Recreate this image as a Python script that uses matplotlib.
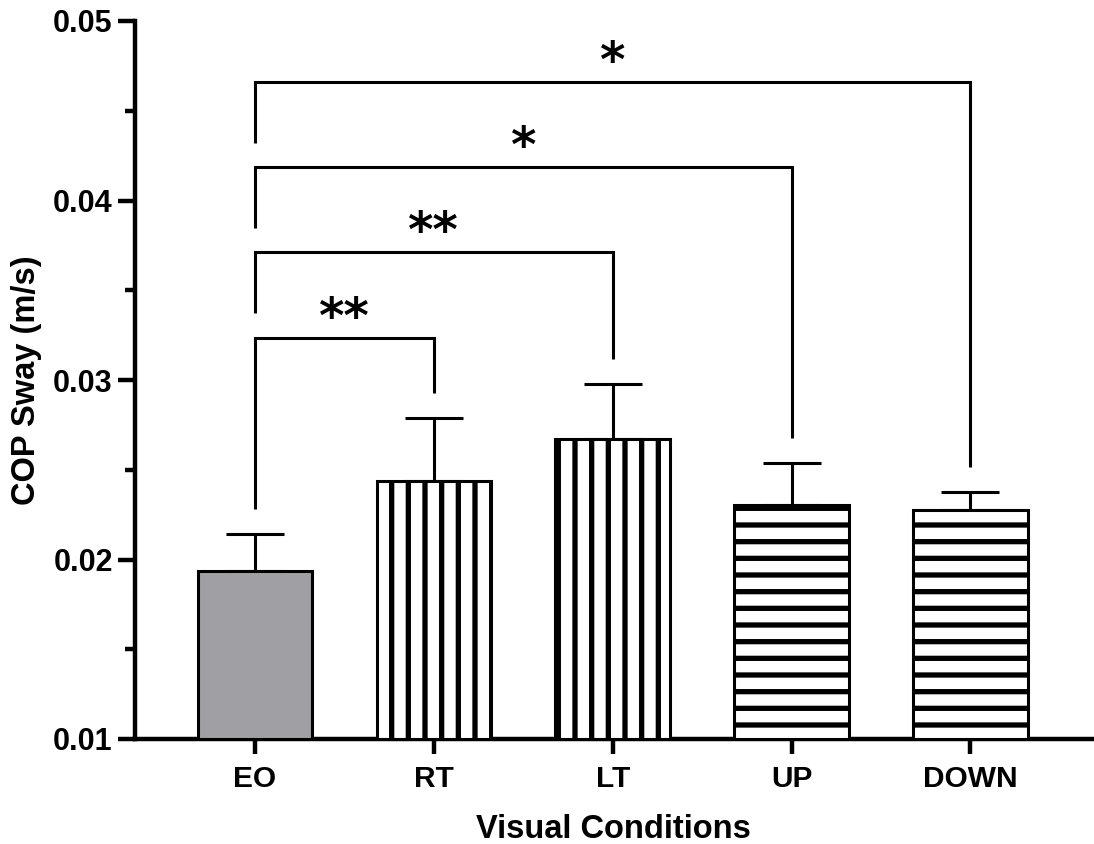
import matplotlib
matplotlib.use("Agg")
import matplotlib.pyplot as plt
from matplotlib.ticker import MultipleLocator, FormatStrFormatter

# 데이터
categories = ["EO", "RT", "LT", "UP", "DOWN"]
means = [0.01936, 0.02437, 0.02671, 0.02304, 0.02273]
sems = [0.00206, 0.00351, 0.00307, 0.00234, 0.00104]
hatches = ["", "|", "|", "-", "-"]
colors = ["#a09fa4", "white", "white", "white", "white"]

# 유의성 표시: (왼쪽, 오른쪽, 높이, 별표)
pairs = [(0, 1), (0, 2), (0, 3), (0, 4)]
bracket_y = [0.03234, 0.03713, 0.04187, 0.04660]
stars = ["**", "**", "*", "*"]

plt.rcParams["font.family"] = ["Liberation Sans", "DejaVu Sans"]
plt.rcParams["font.weight"] = "bold"
plt.rcParams["hatch.linewidth"] = 3.8

W, H = 1094, 844
fig = plt.figure(figsize=(W / 100, H / 100), dpi=100)
ax = fig.add_axes([135 / W, 105 / H, (1092 - 135) / W, (823 - 105) / H])

ymin, ymax = 0.01, 0.05
x = list(range(len(categories)))
heights = [m - ymin for m in means]
ax.bar(x, heights, bottom=ymin, width=0.64, color=colors, edgecolor="black",
       linewidth=2.2, hatch=hatches, zorder=3)
ax.errorbar(x, means, yerr=[[0] * len(means), sems], fmt="none", ecolor="black",
            elinewidth=2.2, capsize=21, capthick=2.2, zorder=2)

# 브래킷
gap = 0.0014
leg = 0.0034
for k, (i, j) in enumerate(pairs):
    yb = bracket_y[k]
    if k == 0:
        yl = means[i] + sems[i] + gap
    else:
        yl = yb - leg
    yr = means[j] + sems[j] + gap
    ax.plot([i, i, j, j], [yl, yb, yb, yr], color="black", lw=2.2,
            solid_joinstyle="miter", solid_capstyle="butt", clip_on=False)
    ax.text((i + j) / 2, yb + 0.0003, stars[k], ha="center", va="baseline",
            fontsize=35, fontweight="bold", family="DejaVu Sans")

ax.set_xlim(-0.671, 4.68)
ax.set_ylim(ymin, ymax)
ax.set_xticks(x)
ax.set_xticklabels(categories)
ax.yaxis.set_major_locator(MultipleLocator(0.01))
ax.yaxis.set_minor_locator(MultipleLocator(0.005))
ax.yaxis.set_major_formatter(FormatStrFormatter("%.2f"))

for side in ["top", "right"]:
    ax.spines[side].set_visible(False)
for side in ["left", "bottom"]:
    ax.spines[side].set_linewidth(3.2)

ax.tick_params(axis="y", which="major", length=12, width=3.2, labelsize=22, pad=4)
ax.tick_params(axis="y", which="minor", length=7, width=3.2)
ax.tick_params(axis="x", which="major", length=11, width=3.2, labelsize=21.5, pad=8)

ax.set_xlabel("Visual Conditions", fontsize=23.5, fontweight="bold", labelpad=15)
ax.set_ylabel("COP Sway (m/s)", fontsize=23.5, fontweight="bold", labelpad=8)

fig.savefig("out.png", dpi=100)
